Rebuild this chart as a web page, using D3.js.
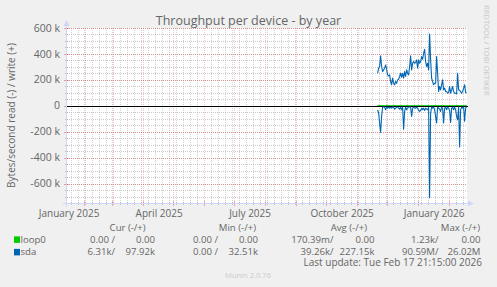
<!DOCTYPE html>
<html><head><meta charset="utf-8">
<script src="https://cdn.jsdelivr.net/npm/d3@7"></script>
<style>
body{margin:0;background:#f0f0f0}
svg{display:block}
text{font-family:"Open Sans",sans-serif;fill:#666666}
</style>
</head><body>
<svg id="c" width="497" height="287"></svg>
<script>
const title = "Throughput per device - by year";
const yLabel = "Bytes/second read (-) / write (+)";
const endTime = "2026-02-17T21:15:00Z";
const spanDays = 400;
const firstDay = "2025-11-19";

// daily averages, in k bytes/second
const sdaWrite = [251,290,303,385,303,264,277,290,315,282,238,231,238,187,162,213,174,162,187,174,
  200,205,226,251,220,251,213,264,226,277,251,238,303,385,277,328,341,328,333,354,
  290,354,328,341,379,359,405,436,341,303,328,277,554,354,213,187,162,174,174,379,
  251,110,149,123,162,200,123,136,110,110,97,103,149,97,123,149,110,97,97,92,
  251,123,118,110,97,110,136,162,103,98];
const sdaRead = [31,56,133,205,82,10,10,10,31,10,18,10,18,10,18,10,10,26,18,10,
  10,18,26,10,31,10,180,44,10,31,18,10,10,10,82,18,10,18,18,10,
  18,36,44,36,18,31,18,36,18,26,31,10,710,56,10,18,10,31,82,133,
  10,18,26,44,10,18,133,18,10,31,10,18,36,128,18,10,31,10,31,82,
  108,10,318,31,10,18,10,120,18,6];
const loop0Write = [0,0,0,0,0,0,0,0,0,0,0,0,0,0,0,0,0,0,0,0,0,0,0,0,0,0,0,0,0,0,
  0,0,0,0,0,0,0,0,0,0,0,0,0,0,0,0,0,0,0,0,0,0,0,0,0,0,0,0,0,0,
  0,0,0,0,0,0,0,0,0,0,0,0,0,0,0,0,0,0,0,0,0,0,0,0,0,0,0,0,0,0];
const loop0Read = [0,0,0,0,0,0,0,0,0,0,0,0,0,0,0,0,0,0,0,0,0,0,0,0,0,0,0,0,0,0,
  0,0,0,0,0,0,0,0,0,0,0,0,0,0,0,0,0,0,0,0,0,0,0,0,0,0,0,0,0,0,
  0,0,0,0,0,0,0,0,0,0,0,0,0,0,0,0,0,0,0,0,0,0,0,0,0,0,0,0,0,0];

const yTicks = [600000,400000,200000,0,-200000,-400000,-600000];
const yTickLabels = ["600 k","400 k","200 k","0","-200 k","-400 k","-600 k"];
const yDomain = [-750000, 600000];
const xLabelMonths = ["2025-01-01","2025-04-01","2025-07-01","2025-10-01","2026-01-01"];
const xLabels = ["January 2025","April 2025","July 2025","October 2025","January 2026"];

const series = ["loop0","sda"];
const seriesColors = ["#00cc00","#0066b3"];
const legendHeaders = ["Cur (-/+)","Min (-/+)","Avg (-/+)","Max (-/+)"];
const curRead  = ["0.00 /","6.31k/"];
const curWrite = ["0.00","97.92k"];
const minRead  = ["0.00 /","0.00 /"];
const minWrite = ["0.00","32.51k"];
const avgRead  = ["170.39m/","39.26k/"];
const avgWrite = ["0.00","227.15k"];
const maxRead  = ["1.23k/","90.59M/"];
const maxWrite = ["0.00","26.02M"];
const lastUpdate = "Last update: Tue Feb 17 21:15:00 2026";
const version = "Munin 2.0.76";
const watermark = "RRDTOOL / TOBI OETIKER";

const svg = d3.select("#c");
const W = 497, H = 287;
const L = 67, R = 467, T = 28, B = 203;
const DAY = 86400000;
const end = new Date(endTime);
const start = new Date(+end - spanDays*DAY);
const x = d3.scaleUtc().domain([start, end]).range([L, R]);
const y = d3.scaleLinear().domain(yDomain).range([B, T]);
const px = v => Math.round(x(v)) - 0.5;
const py = v => Math.round(y(v)) + 0.5;

svg.append("rect").attr("width",W).attr("height",H).attr("fill","#f0f0f0");
svg.append("rect").attr("x",L).attr("y",T).attr("width",R-L).attr("height",B-T).attr("fill","#ffffff");

const gridC = "rgba(150,150,150,0.5)";
const mgridC = "rgba(222,79,79,0.45)";
const mgridV = "rgba(222,79,79,0.32)";
const gridV = "rgba(150,150,150,0.42)";
const g = svg.append("g");

// minor grid
const minorY = d3.range(yDomain[0], yDomain[1]+1, 50000);
g.selectAll(".hy").data(minorY).join("line")
  .attr("x1",L).attr("x2",R).attr("y1",d=>py(d)).attr("y2",d=>py(d))
  .attr("stroke",gridC).attr("stroke-dasharray","1,1");
g.selectAll(".ty").data(minorY).join("line")
  .attr("x1",L-2).attr("x2",L+1).attr("y1",d=>py(d)).attr("y2",d=>py(d))
  .attr("stroke",gridC);
const months = d3.utcMonth.range(start, end);
const monthPx = new Set(months.map(px));
const weeks = d3.utcSunday.range(start, end).filter(d=>!monthPx.has(px(d)));
g.selectAll(".vx").data(weeks).join("line")
  .attr("y1",T).attr("y2",B).attr("x1",d=>px(d)).attr("x2",d=>px(d))
  .attr("stroke",gridV).attr("stroke-dasharray","1,1");
g.selectAll(".tx").data(weeks).join("line")
  .attr("y1",B-1).attr("y2",B+2).attr("x1",d=>px(d)).attr("x2",d=>px(d))
  .attr("stroke",gridC);
// major grid
g.selectAll(".mhy").data(yTicks.filter(v=>v!==0)).join("line")
  .attr("x1",L).attr("x2",R).attr("y1",d=>py(d)).attr("y2",d=>py(d))
  .attr("stroke",mgridC).attr("stroke-dasharray","1,1");
g.selectAll(".mty").data(yTicks).join("line")
  .attr("x1",L-3).attr("x2",L+2).attr("y1",d=>py(d)).attr("y2",d=>py(d))
  .attr("stroke",mgridC);
g.selectAll(".mvx").data(months).join("line")
  .attr("y1",T).attr("y2",B).attr("x1",d=>px(d)).attr("x2",d=>px(d))
  .attr("stroke",mgridV).attr("stroke-dasharray","1,1");
g.selectAll(".mtx").data(months).join("line")
  .attr("y1",B-2).attr("y2",B+3).attr("x1",d=>px(d)).attr("x2",d=>px(d))
  .attr("stroke",mgridC);

// data
const day0 = new Date(firstDay + "T12:00:00Z");
const days = d3.utcDay.range(day0, d3.utcDay.offset(day0, sdaWrite.length)).map(d=>new Date(+d + 12*3600000));
const line = d3.line().x(d=>x(d[0])).y(d=>y(d[1]));
const mk = (arr, sign) => arr.map((v,i)=>[days[i], sign*v*1000]);
[[loop0Write,1],[loop0Read,-1]].forEach(([a,s])=>{
  svg.append("path").attr("d",line(mk(a,s))).attr("fill","none").attr("stroke",seriesColors[0]).attr("stroke-width",1);
});
// zero rule
svg.append("line").attr("x1",L).attr("x2",R+1).attr("y1",py(0)).attr("y2",py(0)).attr("stroke","#000").attr("stroke-width",1);
[[sdaWrite,1],[sdaRead,-1]].forEach(([a,s])=>{
  svg.append("path").attr("d",line(mk(a,s))).attr("fill","none").attr("stroke",seriesColors[1]).attr("stroke-width",1.1).attr("stroke-linejoin","round");
});

// axes
const axC = "#cfd6f8";
svg.append("line").attr("x1",L-0.5).attr("x2",L-0.5).attr("y1",B+4).attr("y2",T-5).attr("stroke",axC);
svg.append("path").attr("d",`M${L-3.5},${T-2}L${L-0.5},${T-8}L${L+2.5},${T-2}Z`).attr("fill",axC);
svg.append("line").attr("x1",L-4).attr("x2",R+3).attr("y1",B+0.5).attr("y2",B+0.5).attr("stroke",axC);
svg.append("path").attr("d",`M${R+1},${B-2.5}L${R+7},${B+0.5}L${R+1},${B+3.5}Z`).attr("fill",axC);

// y tick labels
svg.selectAll(".yl").data(yTicks).join("text")
  .attr("x",60).attr("y",d=>y(d)+3.6).attr("text-anchor","end")
  .attr("font-size","10.5px").text((d,i)=>yTickLabels[i]);
// x labels (centered mid-month)
svg.selectAll(".xl").data(xLabelMonths).join("text")
  .attr("x",d=>x(new Date(+new Date(d+"T00:00:00Z") + 15*DAY))).attr("y",216.5)
  .attr("text-anchor","middle").attr("font-size","10px").text((d,i)=>xLabels[i]);

// title
svg.append("text").attr("x",W/2).attr("y",25.3).attr("text-anchor","middle").attr("font-size","12.5px").text(title);
// y label
svg.append("text").attr("transform",`translate(14.5,${(T+B)/2}) rotate(-90)`).attr("text-anchor","middle").attr("font-size","10px").text(yLabel);
// watermark
svg.append("text").attr("transform","translate(483.5,5) rotate(90)").attr("font-size","7.6px").style("fill","#c8c8c8").text(watermark);

// legend
const fs = "9.6px";
const hdrEnds = [145.7, 256, 367, 480];
svg.selectAll(".lh").data(legendHeaders).join("text")
  .attr("x",(d,i)=>hdrEnds[i]).attr("y",230.5).attr("text-anchor","end").attr("font-size",fs).text(d=>d);
const cols = [curRead,curWrite,minRead,minWrite,avgRead,avgWrite,maxRead,maxWrite];
const colEnds = [115,155,218,258,333.5,374.5,438.5,480.5];
const rowY = [242.7, 255.2];
series.forEach((s,r)=>{
  svg.append("rect").attr("x",14).attr("y",rowY[r]-6.3).attr("width",6).attr("height",6.5).attr("fill",seriesColors[r]);
  svg.append("text").attr("x",20.5).attr("y",rowY[r]).attr("font-size",fs).text(s);
  cols.forEach((c,j)=>{
    svg.append("text").attr("x",colEnds[j]).attr("y",rowY[r]).attr("text-anchor","end").attr("font-size",fs).text(c[r]);
  });
});
svg.append("text").attr("x",482).attr("y",265.8).attr("text-anchor","end").attr("font-size","10px").text(lastUpdate);
svg.append("text").attr("x",248).attr("y",277.5).attr("text-anchor","middle").attr("font-size","7.6px").style("fill","#cccccc").text(version);
</script>
</body></html>
